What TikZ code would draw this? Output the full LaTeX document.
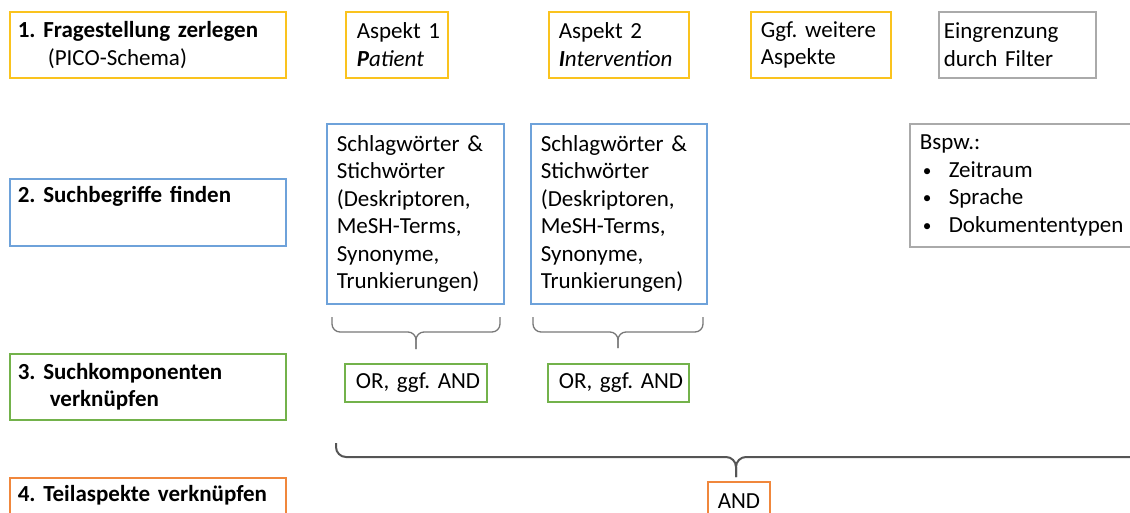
\documentclass[tikz,border=0pt]{standalone}
\usepackage{fontspec}
\setmainfont{Carlito}
\definecolor{ylwc}{RGB}{250,195,30}
\definecolor{bluc}{RGB}{110,162,218}
\definecolor{grnc}{RGB}{115,178,75}
\definecolor{orgc}{RGB}{240,135,60}
\definecolor{gryc}{RGB}{170,170,170}
\definecolor{brc}{RGB}{120,120,120}
\definecolor{bbrc}{RGB}{85,85,85}
\newcommand{\bulitem}{\hspace*{3pt}\makebox[26pt][l]{\raisebox{1pt}{\scalebox{0.75}{\textbullet}}}}
\frenchspacing
\begin{document}
\begin{tikzpicture}[x=1pt,y=-1pt,
  box/.style={draw, line width=1.6pt, anchor=north west, align=left, inner ysep=0pt,
    font=\fontsize{23}{27.5}\selectfont\frenchspacing, text=black},
  ylw/.style={draw=ylwc}, blu/.style={draw=bluc}, grn/.style={draw=grnc},
  org/.style={draw=orgc}, gry/.style={draw=gryc},
  sbrace/.style={draw=brc, line width=1.3pt, rounded corners=8pt},
  bbrace/.style={draw=bbrc, line width=2pt, rounded corners=10pt}]
\useasboundingbox (0,0) rectangle (1130,512);
% row 1
\node[box, ylw, inner xsep=8pt, text width=260pt, minimum height=66pt] (q1) at (9,11)
  {\textbf{1. Fragestellung zerlegen}\\\hspace*{30pt}(PICO-Schema)};
\node[box, ylw, inner xsep=11pt, text width=80pt, minimum height=66pt] (a1) at (345,11)
  {\mbox{Aspekt 1}\\\textbf{\textit{P}}\textit{atient}};
\node[box, ylw, inner xsep=10pt, text width=120pt, minimum height=66pt] (a2) at (548,11)
  {Aspekt 2\\\textbf{\textit{I}}\textit{ntervention}};
\node[box, ylw, inner xsep=10pt, text width=120pt, minimum height=66pt] (a3) at (750,11)
  {Ggf. weitere\\Aspekte};
\node[box, gry, inner xsep=5pt, text width=147pt, minimum height=66pt] (f1) at (938,11)
  {Eingrenzung\\durch Filter};
% row 2
\node[box, blu, inner xsep=8pt, text width=260pt, minimum height=67pt] (q2) at (9,178)
  {\textbf{2. Suchbegriffe finden}\\\strut};
\node[box, blu, inner xsep=10pt, text width=157pt, minimum height=180pt] (s1) at (326,123)
  {Schlagwörter \&\\Stichwörter\\(Deskriptoren,\\MeSH-Terms,\\Synonyme,\\Trunkierungen)};
\node[box, blu, inner xsep=10pt, text width=156pt, minimum height=180pt] (s2) at (530,123)
  {Schlagwörter \&\\Stichwörter\\(Deskriptoren,\\MeSH-Terms,\\Synonyme,\\Trunkierungen)};
\node[box, gry, inner xsep=10pt, text width=220pt, minimum height=123pt] (bsp) at (909,123)
  {Bspw.:\\\bulitem Zeitraum\\\bulitem Sprache\\\bulitem Dokumententypen};
% row 3
\node[box, grn, inner xsep=8pt, text width=260pt, minimum height=66pt] (q3) at (9,353)
  {\textbf{3. Suchkomponenten}\\\hspace*{32pt}\textbf{verknüpfen}};
\node[box, grn, inner xsep=11pt, text width=120pt, minimum height=38pt] (o1) at (344,363)
  {\mbox{OR, ggf. AND}};
\node[box, grn, inner xsep=11pt, text width=119pt, minimum height=38pt] (o2) at (547,363)
  {\mbox{OR, ggf. AND}};
% row 4
\node[box, org, inner xsep=8pt, text width=260pt, minimum height=67pt] (q4) at (9,477)
  {\textbf{4. Teilaspekte verknüpfen}\\\strut};
\node[box, org, inner xsep=10pt, text width=42pt, minimum height=38pt] (andn) at (707,481)
  {\mbox{AND}};
% braces
\coordinate (b1l) at (332,317); \coordinate (b1r) at (500,317);
\coordinate (b1m) at (416,332); \coordinate (b1t) at (416,349);
\coordinate (b2l) at (533,317); \coordinate (b2r) at (703,317);
\coordinate (b2m) at (618,332); \coordinate (b2t) at (618,348);
\coordinate (b3l) at (336,443); \coordinate (b3r) at (1145,443);
\coordinate (b3m) at (736,457); \coordinate (b3t) at (736,477);
\draw[sbrace] (b1l) |- (b1m) -- (b1t);
\draw[sbrace] (b1r) |- (b1m) -- (b1t);
\draw[sbrace] (b2l) |- (b2m) -- (b2t);
\draw[sbrace] (b2r) |- (b2m) -- (b2t);
\draw[bbrace] (b3l) |- (b3m) -- (b3t);
\draw[bbrace] (b3r) |- (b3m) -- (b3t);
\end{tikzpicture}
\end{document}
